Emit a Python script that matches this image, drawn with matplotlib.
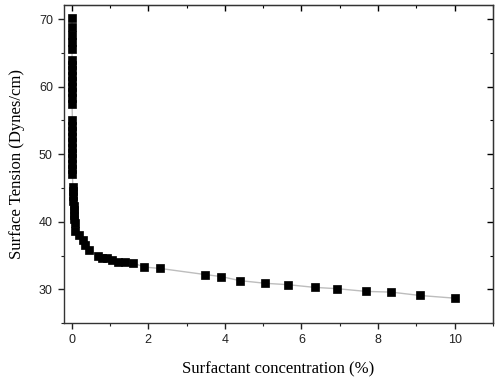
import matplotlib
matplotlib.use("Agg")
import matplotlib.pyplot as plt
from matplotlib.ticker import MultipleLocator

# surfactant concentration (%) and surface tension (dynes/cm)
conc = [0.01, 0.01, 0.01, 0.01, 0.01,
        0.01, 0.01, 0.01, 0.01, 0.01, 0.01, 0.01, 0.01, 0.01,
        0.02, 0.02, 0.02, 0.02, 0.02, 0.02, 0.02, 0.02, 0.02, 0.02, 0.02,
        0.03, 0.03, 0.04, 0.04, 0.05, 0.05, 0.06, 0.07, 0.08,
        0.10, 0.18, 0.29, 0.36, 0.44, 0.70, 0.80, 0.93, 1.06, 1.22, 1.38,
        1.61, 1.90, 2.31, 3.48, 3.90, 4.39, 5.06, 5.64, 6.34, 6.94, 7.69,
        8.34, 9.09, 10.0]
tension = [70.2, 68.8, 67.6, 66.6, 65.6,
           64.0, 63.2, 62.4, 61.6, 60.8, 60.0, 59.2, 58.4, 57.4,
           55.0, 54.2, 53.4, 52.6, 51.8, 51.0, 50.2, 49.4, 48.6, 47.8, 47.1,
           45.2, 44.5, 43.8, 43.1, 42.4, 41.7, 41.0, 40.4, 39.8,
           38.7, 38.0, 37.3, 36.5, 35.9, 35.0, 34.7, 34.6, 34.4, 34.1, 34.1,
           33.9, 33.3, 33.1, 32.2, 31.9, 31.3, 30.9, 30.7, 30.3, 30.1, 29.7,
           29.6, 29.1, 28.7]

fig = plt.figure(figsize=(5.0, 3.82), dpi=100)
ax = fig.add_axes([0.128, 0.154, 0.858, 0.833])

ax.plot(conc, tension, color="#bdbdbd", linewidth=1.0, marker="s",
        markersize=5.4, markerfacecolor="black", markeredgecolor="black",
        markeredgewidth=0.5)

ax.set_xlim(-0.2, 11)
ax.set_ylim(25, 72.1)
ax.xaxis.set_major_locator(MultipleLocator(2))
ax.xaxis.set_minor_locator(MultipleLocator(1))
ax.yaxis.set_major_locator(MultipleLocator(10))
ax.yaxis.set_minor_locator(MultipleLocator(5))

for s in ax.spines.values():
    s.set_linewidth(1.0)
    s.set_color("#333333")

ax.tick_params(which="both", direction="out", top=False, right=False,
               labelsize=9, colors="#222222")
ax.tick_params(which="major", length=4.5, width=1.0)
ax.tick_params(which="minor", length=2.5, width=0.8)
for lab in ax.get_xticklabels() + ax.get_yticklabels():
    lab.set_family("Liberation Sans")

# inward ticks on the top and right frame
top = ax.secondary_xaxis("top")
top.xaxis.set_major_locator(MultipleLocator(2))
top.xaxis.set_minor_locator(MultipleLocator(1))
top.tick_params(which="both", direction="in", labeltop=False)
top.tick_params(which="major", length=4.5, width=1.0)
top.tick_params(which="minor", length=2.5, width=0.8)
right = ax.secondary_yaxis("right")
right.yaxis.set_major_locator(MultipleLocator(10))
right.yaxis.set_minor_locator(MultipleLocator(5))
right.tick_params(which="both", direction="in", labelright=False)
right.tick_params(which="major", length=4.5, width=1.0)
right.tick_params(which="minor", length=2.5, width=0.8)

ax.set_xlabel("Surfactant concentration (%)", family="Liberation Serif",
              fontsize=12, labelpad=11)
ax.set_ylabel("Surface Tension (Dynes/cm)", family="Liberation Serif",
              fontsize=12, labelpad=10)

fig.savefig("out.png", dpi=100)
